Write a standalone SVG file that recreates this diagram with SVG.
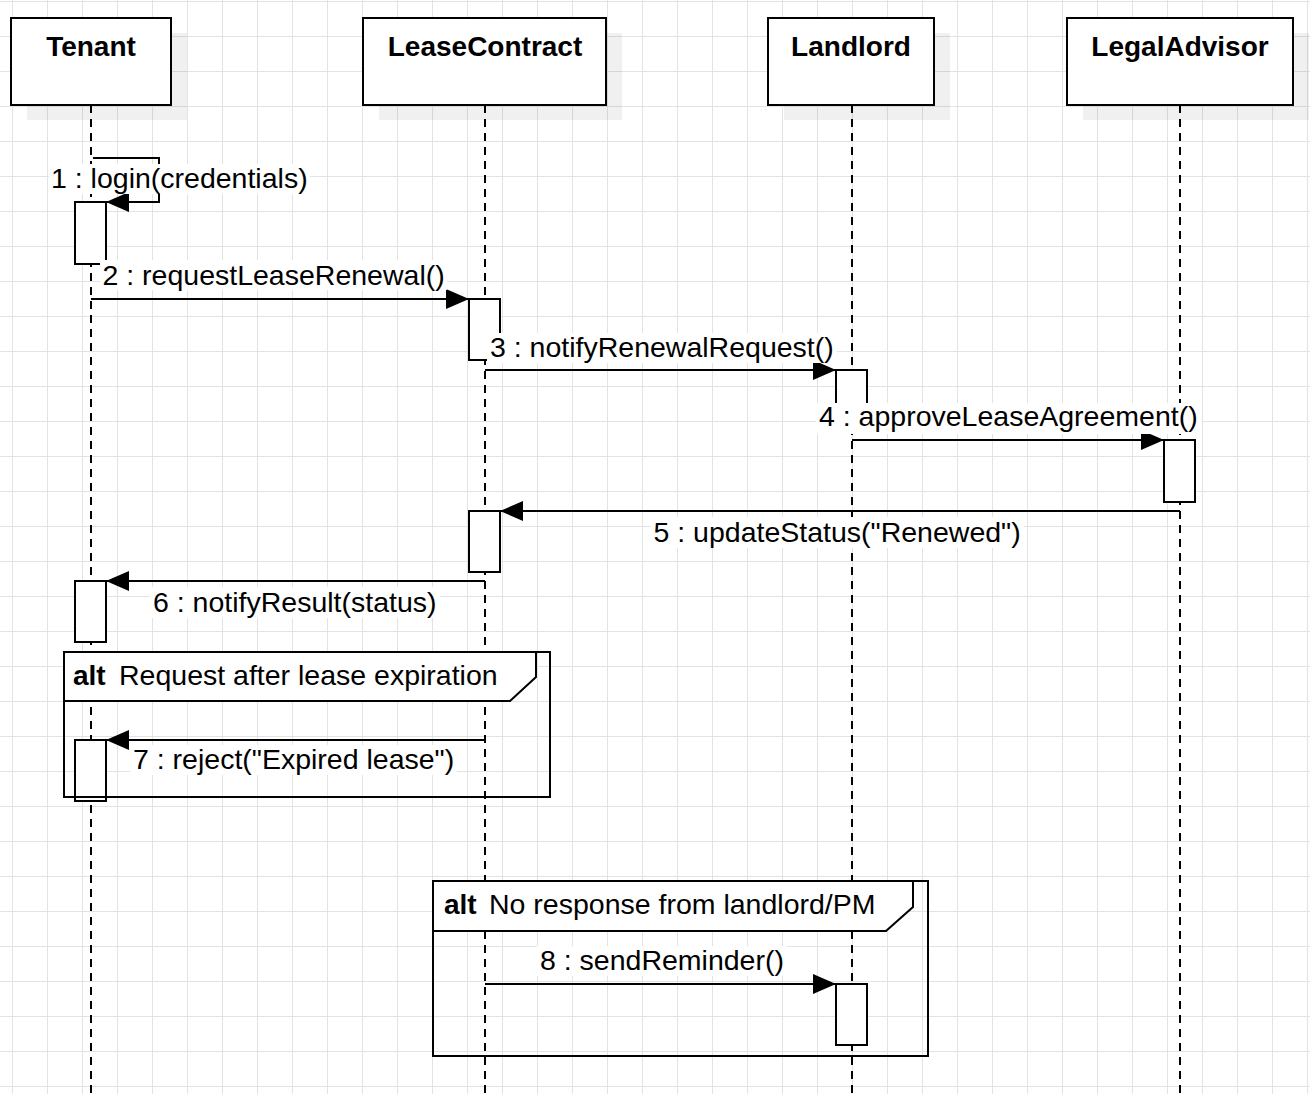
<svg xmlns="http://www.w3.org/2000/svg" width="1310" height="1094" viewBox="0 0 1310 1094">
<defs>
<pattern id="grid" x="12" y="1" width="35" height="35" patternUnits="userSpaceOnUse"><path d="M0.5 0V35M0 0.5H35" stroke="#e3e3e3" stroke-width="1" fill="none"/></pattern>
<marker id="arr" markerUnits="userSpaceOnUse" markerWidth="24" markerHeight="22" refX="23" refY="10" orient="auto"><path d="M0 0L23 10L0 20z" fill="#000"/></marker>
</defs>
<style>
.shadow{fill:#000;fill-opacity:0.06}
.box{fill:#fff;stroke:#000;stroke-width:2}
.title{font-family:"Liberation Sans",Arial,sans-serif;font-weight:bold;font-size:28px;text-anchor:middle;fill:#000}
.life{stroke:#000;stroke-width:2;stroke-dasharray:8 6;fill:none}
.act{fill:#fff;stroke:#000;stroke-width:2}
.msg{stroke:#000;stroke-width:2;fill:none;marker-end:url(#arr)}
.lblbg{fill:#fff}
.lbl{font-family:"Liberation Sans",Arial,sans-serif;font-size:28.5px;fill:#000}
.fbody{fill:none;stroke:#000;stroke-width:2}
.fhead{fill:#fff;stroke:#000;stroke-width:2}
.kw{font-family:"Liberation Sans",Arial,sans-serif;font-size:28px;font-weight:bold;fill:#000}
</style>
<rect width="1310" height="1094" fill="#fff"/>
<rect width="1310" height="1094" fill="url(#grid)"/>

<g id="tenant">
<rect class="shadow" x="27" y="33" width="160" height="87"/>
<rect class="box" x="11" y="18" width="160" height="87"/>
<text class="title" x="91" y="56">Tenant</text>
<line class="life" x1="91" y1="105" x2="91" y2="1094"/>
<rect class="act" x="75" y="202" width="31" height="62"/>
<rect class="act" x="75" y="581" width="31" height="61"/>
<rect class="act" x="75" y="740" width="31" height="61"/>
</g>

<g id="leasecontract">
<rect class="shadow" x="379" y="33" width="243" height="87"/>
<rect class="box" x="363" y="18" width="243" height="87"/>
<text class="title" x="485" y="56">LeaseContract</text>
<line class="life" x1="485" y1="105" x2="485" y2="1094"/>
<rect class="act" x="469" y="299" width="31" height="61"/>
<rect class="act" x="469" y="511" width="31" height="61"/>
</g>

<g id="landlord">
<rect class="shadow" x="784" y="33" width="166" height="87"/>
<rect class="box" x="768" y="18" width="166" height="87"/>
<text class="title" x="851" y="56">Landlord</text>
<line class="life" x1="852" y1="105" x2="852" y2="1094"/>
<rect class="act" x="836" y="370" width="31" height="62"/>
<rect class="act" x="836" y="984" width="31" height="61"/>
</g>

<g id="legaladvisor">
<rect class="shadow" x="1083" y="33" width="226" height="87"/>
<rect class="box" x="1067" y="18" width="226" height="87"/>
<text class="title" x="1180" y="56">LegalAdvisor</text>
<line class="life" x1="1180" y1="105" x2="1180" y2="1094"/>
<rect class="act" x="1164" y="440" width="31" height="62"/>
</g>

<g id="connectors">
<path class="msg" d="M93 158H159V202H106"/>
<rect class="lblbg" x="49" y="164" width="261" height="30"/>
<text class="lbl" x="51" y="188">1 : login(credentials)</text>

<path class="msg" d="M91 299H469"/>
<rect class="lblbg" x="100" y="260" width="347" height="30"/>
<text class="lbl" x="102.5" y="284.5">2 : requestLeaseRenewal()</text>

<path class="msg" d="M485 370H836"/>
<rect class="lblbg" x="487" y="333" width="350" height="30"/>
<text class="lbl" x="490" y="357">3 : notifyRenewalRequest()</text>

<path class="msg" d="M852 440H1164"/>
<rect class="lblbg" x="816" y="403" width="386" height="31"/>
<text class="lbl" x="819" y="426">4 : approveLeaseAgreement()</text>

<path class="msg" d="M1180 511H500"/>
<rect class="lblbg" x="651" y="517" width="373" height="31"/>
<text class="lbl" x="653.5" y="541.5">5 : updateStatus("Renewed")</text>

<path class="msg" d="M485 581H106"/>
<rect class="lblbg" x="150" y="587" width="290" height="31"/>
<text class="lbl" x="153" y="611.5">6 : notifyResult(status)</text>

<path class="msg" d="M485 740H106"/>
<rect class="lblbg" x="130" y="745" width="327" height="30"/>
<text class="lbl" x="133" y="768.5">7 : reject("Expired lease")</text>

<path class="msg" d="M485 984H836"/>
<rect class="lblbg" x="537" y="946" width="250" height="30"/>
<text class="lbl" x="540" y="970">8 : sendReminder()</text>
</g>

<g id="alt1">
<rect class="fbody" x="64" y="652" width="486" height="145"/>
<path class="fhead" d="M64 652H536V677L510 701H64Z"/>
<text class="kw" x="73" y="685">alt</text>
<text class="lbl" x="119" y="685">Request after lease expiration</text>
</g>

<g id="alt2">
<rect class="fbody" x="433" y="881" width="495" height="175"/>
<path class="fhead" d="M433 881H913V907L886 931H433Z"/>
<text class="kw" x="444" y="914">alt</text>
<text class="lbl" x="489" y="914">No response from landlord/PM</text>
</g>
</svg>
